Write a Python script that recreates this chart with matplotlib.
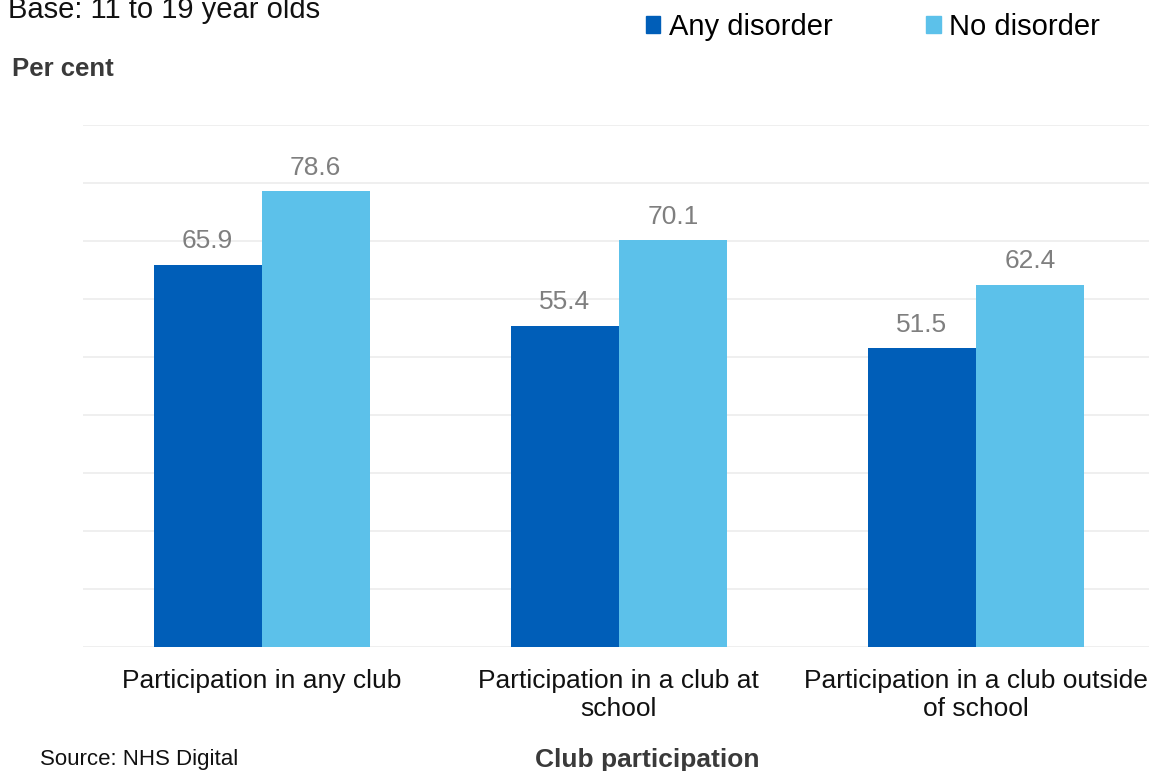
import matplotlib
matplotlib.use('Agg')
import matplotlib.pyplot as plt
import numpy as np
from matplotlib.patches import Patch

plt.rcParams['font.family'] = ['Liberation Sans', 'DejaVu Sans']

categories = ['Participation in any club',
              'Participation in a club at\nschool',
              'Participation in a club outside\nof school']
any_disorder = [65.9, 55.4, 51.5]
no_disorder = [78.6, 70.1, 62.4]
series_names = ['Any disorder', 'No disorder']

DARK = '#005EB8'
LIGHT = '#5CC1EA'
W, H = 1149, 771

fig = plt.figure(figsize=(W / 100, H / 100), dpi=100)
fig.patch.set_facecolor('white')
ax = fig.add_axes([83 / W, 1 - 647 / H, 1 - 83 / W, (647 - 125) / H])

x = np.arange(len(categories))
bw = 108 / 357
b1 = ax.bar(x - bw / 2, any_disorder, bw, color=DARK, zorder=3)
b2 = ax.bar(x + bw / 2, no_disorder, bw, color=LIGHT, zorder=3)

for bars, vals in ((b1, any_disorder), (b2, no_disorder)):
    for r, v in zip(bars, vals):
        ax.text(r.get_x() + r.get_width() / 2, v + 2.0, f'{v:.1f}',
                ha='center', va='bottom', fontsize=19, color='#7f7f7f')

ax.set_xlim(-0.5, 2.5 - 5.5 / 357)
ax.set_ylim(0, 90)
ax.set_yticks(np.arange(0, 91, 10))
ax.yaxis.grid(True, color='#ececec', linewidth=1.2, zorder=0)
ax.tick_params(axis='y', left=False, labelleft=False)
ax.set_xticks(x)
ax.set_xticklabels(categories, fontsize=19, color='#111111', linespacing=1.2)
ax.tick_params(axis='x', length=0, pad=16)
for s in ax.spines.values():
    s.set_visible(False)

fig.text(8 / W, 1 - 10 / H, 'Base: 11 to 19 year olds', fontsize=21,
         ha='left', va='center', color='#111111')
fig.text(12 / W, 1 - 69 / H, 'Per cent', fontsize=18.5, fontweight='bold',
         ha='left', va='center', color='#3a3a3a')
fig.text(40 / W, 1 - 760 / H, 'Source: NHS Digital', fontsize=16,
         ha='left', va='center', color='#111111')
fig.text(647 / W, 1 - 760 / H, 'Club participation', fontsize=19,
         fontweight='bold', ha='center', va='center', color='#3a3a3a')

handles = [Patch(color=DARK), Patch(color=LIGHT)]
fig.legend(handles, series_names, loc='center', bbox_to_anchor=(873 / W, 1 - 27 / H),
           ncol=2, frameon=False, fontsize=21, handlelength=0.5, handleheight=0.5,
           handletextpad=0.3, columnspacing=3.2, borderpad=0)

fig.savefig('out.png', dpi=100, facecolor='white')
